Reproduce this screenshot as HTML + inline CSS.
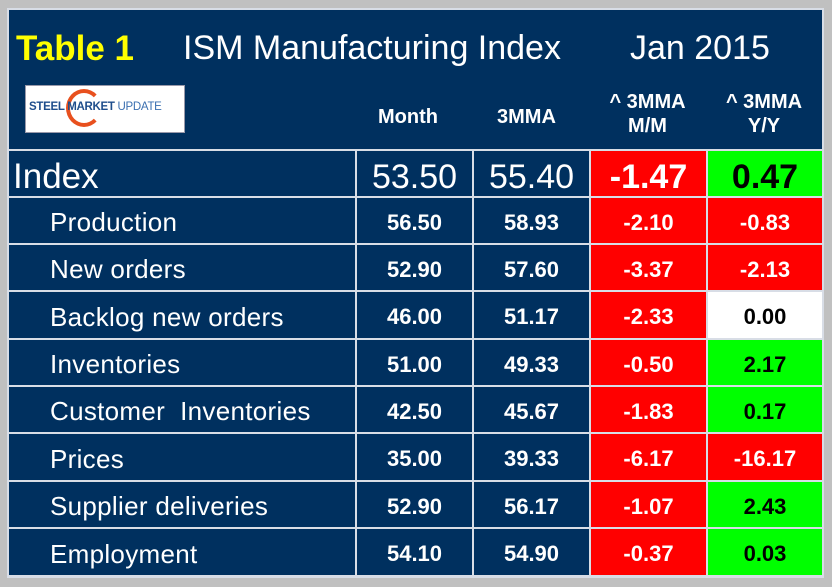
<!DOCTYPE html>
<html><head><style>
body{margin:0;width:832px;height:587px;background:#c0c0c0;position:relative;overflow:hidden;font-family:"Liberation Sans",Arial,sans-serif}
#p{position:absolute;left:7px;top:8px;width:817px;height:570px;background:#00305f;border:2px solid #d8dde6;box-sizing:border-box}
.t{position:absolute;color:#fff;white-space:nowrap}
.c{position:absolute;box-sizing:border-box;border-right:2px solid #d8dde6;border-bottom:2px solid #d8dde6;display:flex;align-items:center;justify-content:center;color:#fff;font-weight:bold;font-size:22px;padding-top:4px}
.r{background:#f00}.g{background:#0f0;color:#000}.w{background:#fff;color:#000}
.l{justify-content:flex-start;padding-left:41px;font-weight:normal;font-size:26px;letter-spacing:0.3px}
</style></head><body>
<div id="p"></div>
<div class="t" style="left:16px;top:29px;font-size:35px;font-weight:bold;color:#ff0">Table 1</div>
<div class="t" style="left:183px;top:29px;font-size:34px">ISM Manufacturing Index</div>
<div class="t" style="left:630px;top:29px;font-size:34px">Jan 2015</div>
<div style="position:absolute;left:25px;top:85px;width:158px;height:46px;background:#fff;border:1px solid #99a">
<div style="position:absolute;left:40px;top:3px;width:36px;height:38px;border-radius:50%;border:4px solid #e8501e;border-right-color:transparent;box-sizing:border-box"></div>
<div style="position:absolute;left:3px;top:15px;font-size:11.5px;font-weight:bold;color:#1f4e8c;white-space:nowrap;letter-spacing:-0.3px">STEEL MARKET <span style="font-weight:normal;color:#3a6fb0">UPDATE</span></div></div>
<div class="t" style="left:378px;top:106px;font-size:20px;font-weight:bold">Month</div>
<div class="t" style="left:497px;top:106px;font-size:20px;font-weight:bold">3MMA</div>
<div class="t" style="left:589px;top:90px;width:117px;text-align:center;font-size:20px;font-weight:bold;line-height:24px">^ 3MMA<br>M/M</div>
<div class="t" style="left:706px;top:90px;width:116px;text-align:center;font-size:20px;font-weight:bold;line-height:24px">^ 3MMA<br>Y/Y</div>
<div style="position:absolute;left:9px;top:149px;width:813px;height:2px;background:#d8dde6"></div>
<div id="rows"></div>
<script>
var d=[["Index","53.50","55.40","-1.47","r","0.47","g"],["Production","56.50","58.93","-2.10","r","-0.83","r"],["New orders","52.90","57.60","-3.37","r","-2.13","r"],["Backlog new orders","46.00","51.17","-2.33","r","0.00","w"],["Inventories","51.00","49.33","-0.50","r","2.17","g"],["Customer&nbsp; Inventories","42.50","45.67","-1.83","r","0.17","g"],["Prices","35.00","39.33","-6.17","r","-16.17","r"],["Supplier deliveries","52.90","56.17","-1.07","r","2.43","g"],["Employment","54.10","54.90","-0.37","r","0.03","g"]];
var h="",ys=[151,198,245,292,340,387,434,482,529,577];
d.forEach(function(r,i){var y=ys[i],hh=ys[i+1]-y;var big=i==0;
var fs=big?'font-size:34px;padding-top:7px;':'';
h+='<div class="c l" style="left:9px;top:'+y+'px;width:348px;height:'+hh+'px;'+(big?'padding-left:4px;font-size:35px;padding-top:7px;letter-spacing:0':'')+'">'+r[0]+'</div>';
h+='<div class="c" style="left:357px;top:'+y+'px;width:117px;height:'+hh+'px;'+fs+(big?'font-weight:normal':'')+'">'+r[1]+'</div>';
h+='<div class="c" style="left:474px;top:'+y+'px;width:117px;height:'+hh+'px;'+fs+(big?'font-weight:normal':'')+'">'+r[2]+'</div>';
h+='<div class="c '+r[4]+'" style="left:591px;top:'+y+'px;width:117px;height:'+hh+'px;'+fs+'">'+r[3]+'</div>';
h+='<div class="c '+r[6]+'" style="left:708px;top:'+y+'px;width:116px;height:'+hh+'px;'+fs+'">'+r[5]+'</div>';});
document.getElementById('rows').innerHTML=h;
</script>
</body></html>
